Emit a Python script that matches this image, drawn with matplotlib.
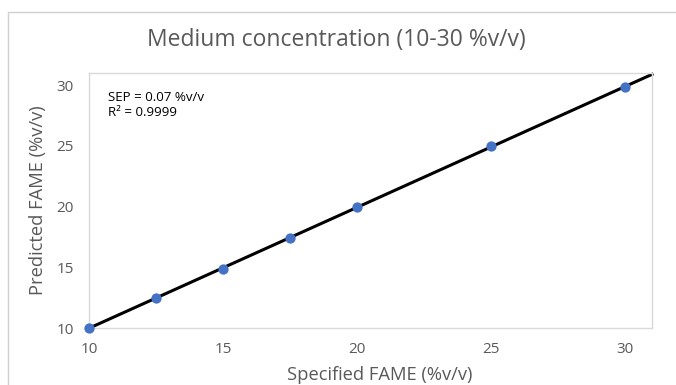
import matplotlib
matplotlib.use("Agg")
import matplotlib.pyplot as plt
import numpy as np
from matplotlib.patches import Rectangle

specified = [10, 12.5, 15, 17.5, 20, 25, 30]
predicted = [10.0, 12.5, 14.9, 17.4, 19.95, 25.0, 29.85]
xticks = [10, 15, 20, 25, 30]
yticks = [10, 15, 20, 25, 30]

plt.rcParams['font.family'] = ['Open Sans', 'DejaVu Sans']
gray = '#595959'

fig = plt.figure(figsize=(6.76, 3.85), dpi=100)
fig.patches.append(Rectangle((8/676, -0.1), 1.2, (385-12)/385 + 0.1, transform=fig.transFigure,
                             fill=False, edgecolor='#d0d0d0', linewidth=1.0))
ax = fig.add_axes([89/676, (385-328)/385, (652-89)/676, (328-73)/385])

coef = np.polyfit(specified, predicted, 1)
xl = np.array([10, 31])
ax.plot(xl, np.polyval(coef, xl), color='black', linewidth=2.2, zorder=2, clip_on=False)
ax.scatter(specified, predicted, s=55, color='#4472C4', zorder=3, clip_on=False, linewidths=0)

ax.set_xlim(10, 31)
ax.set_ylim(10, 31)
ax.set_xticks(xticks)
ax.set_yticks(yticks)
for s in ax.spines.values():
    s.set_color('#d9d9d9')
    s.set_linewidth(1.0)
ax.tick_params(length=0, labelsize=11, colors=gray)
ax.tick_params(axis='x', pad=10)
ax.tick_params(axis='y', pad=11)

ax.set_xlabel('Specified FAME (%v/v)', fontsize=13.2, color=gray)
ax.set_ylabel('Predicted FAME (%v/v)', fontsize=13.2, color=gray)
ax.xaxis.set_label_coords((380-89)/563, -38/255)
ax.yaxis.set_label_coords(-(89-47)/563, 0.5)
fig.text(336/676, (385-40)/385, 'Medium concentration (10-30 %v/v)', fontsize=16.5, color=gray,
         ha='center', va='center')
ax.text(0.033, 0.875, 'SEP = 0.07 %v/v\nR² = 0.9999', transform=ax.transAxes, fontsize=9.6,
        color='black', va='center', ha='left', linespacing=1.15)

fig.savefig('out.png', dpi=100)
